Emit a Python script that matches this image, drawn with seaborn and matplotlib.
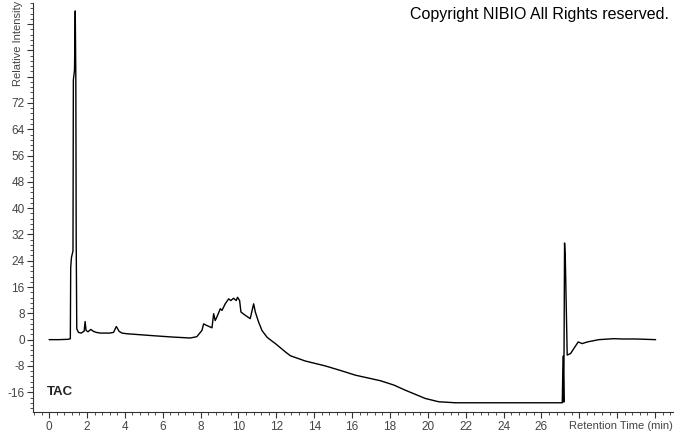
import numpy as np
import pandas as pd
import matplotlib
matplotlib.use("Agg")
import matplotlib.pyplot as plt
from matplotlib.ticker import MultipleLocator
import seaborn as sns

# retention time (min) and relative intensity
rt = [0.0, 0.5, 1.0, 1.12, 1.14, 1.18, 1.22, 1.26, 1.28, 1.34, 1.38, 1.41, 1.43, 1.46,
      1.55, 1.7, 1.85, 1.9, 1.95, 2.05, 2.2, 2.35, 2.5, 2.7, 3.0, 3.2, 3.4, 3.55, 3.7,
      3.85, 4.1, 4.8, 5.5, 6.5, 7.45, 7.8, 8.07, 8.16, 8.33, 8.6, 8.69, 8.77, 8.86,
      9.04, 9.13, 9.3, 9.48, 9.6, 9.74, 9.88, 9.95, 10.06, 10.13, 10.36, 10.62, 10.8,
      10.89, 11.06, 11.24, 11.5, 11.6, 11.95, 12.47, 12.74, 13.53, 14.59, 15.4, 16.17,
      17.5, 18.2, 18.82, 19.87, 20.58, 21.46, 23.0, 25.0, 27.1, 27.14, 27.18, 27.22,
      27.26, 27.36, 27.54, 27.94, 28.15, 28.42, 29.03, 29.83, 30.27, 31.0, 32.03]
intensity = [0.0, 0.0, 0.1, 0.3, 22.0, 25.0, 26.0, 27.0, 79.0, 82.0, 100.0, 80.0, 30.0, 3.3,
             2.2, 2.0, 2.6, 5.5, 2.8, 2.4, 3.1, 2.5, 2.2, 2.0, 2.0, 2.0, 2.2, 4.0, 2.5,
             2.0, 1.8, 1.5, 1.2, 0.8, 0.5, 0.9, 2.8, 4.8, 4.3, 3.6, 7.9, 5.8, 6.9,
             9.4, 8.9, 10.9, 12.4, 11.9, 12.6, 11.9, 12.9, 11.9, 8.4, 7.4, 6.4, 10.9,
             8.4, 5.4, 2.8, 0.8, 0.3, -1.2, -3.7, -4.9, -6.5, -8.0, -9.4, -10.8,
             -12.5, -13.8, -15.4, -17.9, -18.9, -19.2, -19.2, -19.2, -19.2, -5.0, -19.0,
             29.4, 24.8, -4.7, -4.2, -0.7, -1.2, -0.7, 0.0, 0.3, 0.2, 0.2, 0.0]

x_labels = list(range(0, 27, 2))
y_labels = list(range(-16, 73, 8))

df = pd.DataFrame({"rt": rt, "intensity": intensity})

sns.set_style("ticks")
plt.rcParams["font.family"] = ["Liberation Sans", "DejaVu Sans"]

fig = plt.figure(figsize=(6.74, 4.34), dpi=100)
ax = fig.add_axes([0.049, 0.05, 0.951, 0.943])

sns.lineplot(data=df, x="rt", y="intensity", ax=ax, color="black",
             linewidth=1.0, estimator=None, sort=False)

ax.set_xlim(-0.85, 33.0)
ax.set_ylim(-22.1, 102.4)
ax.xaxis.set_major_locator(MultipleLocator(2))
ax.xaxis.set_minor_locator(MultipleLocator(0.4))
ax.yaxis.set_major_locator(MultipleLocator(8))
ax.yaxis.set_minor_locator(MultipleLocator(1.6))
ax.set_xticklabels([str(int(t)) if int(t) in x_labels else "" for t in ax.get_xticks()])
ax.set_yticklabels([str(int(t)) if int(t) in y_labels else "" for t in ax.get_yticks()])
ax.tick_params(which="major", length=4, width=0.8, color="#333333",
               labelsize=8.5, labelcolor="#444444", pad=2)
ax.tick_params(which="minor", length=2, width=0.6, color="#333333")
for s in ["top", "right"]:
    ax.spines[s].set_visible(False)
for s in ["left", "bottom"]:
    ax.spines[s].set_color("#333333")
    ax.spines[s].set_linewidth(0.8)
ax.set_xlabel("")
ax.set_ylabel("")

fig.text(0.998, 0.008, "Retention Time (min)", ha="right", va="bottom",
         fontsize=8, color="#444444")
fig.text(0.026, 0.998, "Relative Intensity", rotation=90, ha="center", va="top",
         fontsize=8, color="#444444")
fig.text(0.992, 0.985, "Copyright NIBIO All Rights reserved.", ha="right", va="top",
         fontsize=11.5, color="black")
ax.text(-0.1, -16, "TAC", ha="left", va="center", fontsize=9.5,
        fontweight="bold", color="#222222")

fig.savefig("out.png", dpi=100)
